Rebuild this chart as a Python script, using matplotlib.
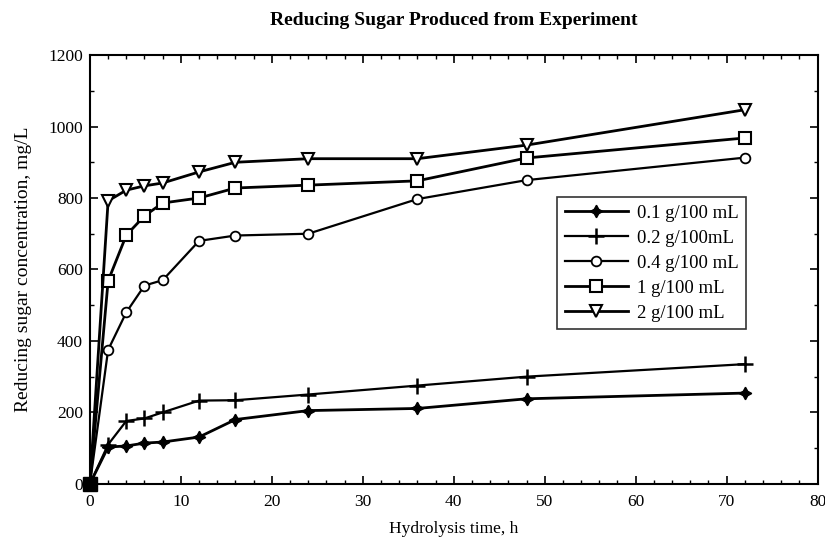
import numpy as np
import matplotlib
matplotlib.use('Agg')
import matplotlib.pyplot as plt
from matplotlib.ticker import MultipleLocator

# hydrolysis time, h
time_h = [0, 2, 4, 6, 8, 12, 16, 24, 36, 48, 72]

# reducing sugar concentration, mg/L
sugar_01 = [0, 103, 106, 114, 117, 131, 180, 205, 211, 238, 254]
sugar_02 = [0, 110, 176, 183, 200, 233, 234, 250, 275, 300, 335]
sugar_04 = [0, 375, 480, 555, 570, 680, 695, 700, 797, 850, 913]
sugar_1 = [0, 568, 696, 750, 786, 800, 828, 836, 848, 912, 968]
sugar_2 = [0, 792, 822, 834, 842, 873, 900, 910, 910, 948, 1047]

labels = ['0.1 g/100 mL', '0.2 g/100mL', '0.4 g/100 mL', '1 g/100 mL', '2 g/100 mL']

plt.rcParams['font.family'] = ['Liberation Serif', 'DejaVu Serif']

fig = plt.figure(figsize=(8.25, 5.4), dpi=100)
ax = fig.add_axes([0.109, 0.104, 0.882, 0.794])

ax.plot(time_h, sugar_01, color='black', lw=2, marker=(4, 1, 0), ms=9, mfc='black', label=labels[0])
ax.plot(time_h, sugar_02, color='black', lw=1.6, marker='+', ms=11, mew=1.8, label=labels[1])
ax.plot(time_h, sugar_04, color='black', lw=1.6, marker='o', ms=7, mfc='white', mew=1.3, label=labels[2])
ax.plot(time_h, sugar_1, color='black', lw=2, marker='s', ms=8, mfc='white', mew=1.5, label=labels[3])
ax.plot(time_h, sugar_2, color='black', lw=2, marker='v', ms=9, mfc='white', mew=1.5, label=labels[4])
# all series start at the origin, where the overlapping markers read as one black block
ax.plot(time_h[0], sugar_01[0], color='black', marker='s', ms=10, clip_on=False, zorder=5)

ax.set_xlim(0, 80)
ax.set_ylim(0, 1200)
ax.xaxis.set_major_locator(MultipleLocator(10))
ax.xaxis.set_minor_locator(MultipleLocator(2))
ax.yaxis.set_major_locator(MultipleLocator(200))
ax.yaxis.set_minor_locator(MultipleLocator(100))
ax.tick_params(which='both', direction='in', top=True, right=True, labelsize=12.5)
ax.tick_params(which='major', length=6, width=1.2)
ax.tick_params(which='minor', length=3, width=1)
ax.tick_params(axis='x', pad=7)
ax.tick_params(axis='y', pad=5)
for s in ax.spines.values():
    s.set_linewidth(1.5)

ax.set_xlabel('Hydrolysis time, h', fontsize=12.5, labelpad=8)
ax.set_ylabel('Reducing sugar concentration, mg/L', fontsize=14, labelpad=12)
ax.set_title('Reducing Sugar Produced from Experiment', fontsize=14, fontweight='bold', pad=22)

leg = ax.legend(loc='upper left', bbox_to_anchor=(0.642, 0.669), fontsize=13.5, frameon=True,
                fancybox=False, edgecolor='black', handlelength=3.4, borderpad=0.4,
                labelspacing=0.42, handletextpad=0.45, borderaxespad=0)
leg.get_frame().set_linewidth(1.2)

fig.savefig('out.png', dpi=100)
